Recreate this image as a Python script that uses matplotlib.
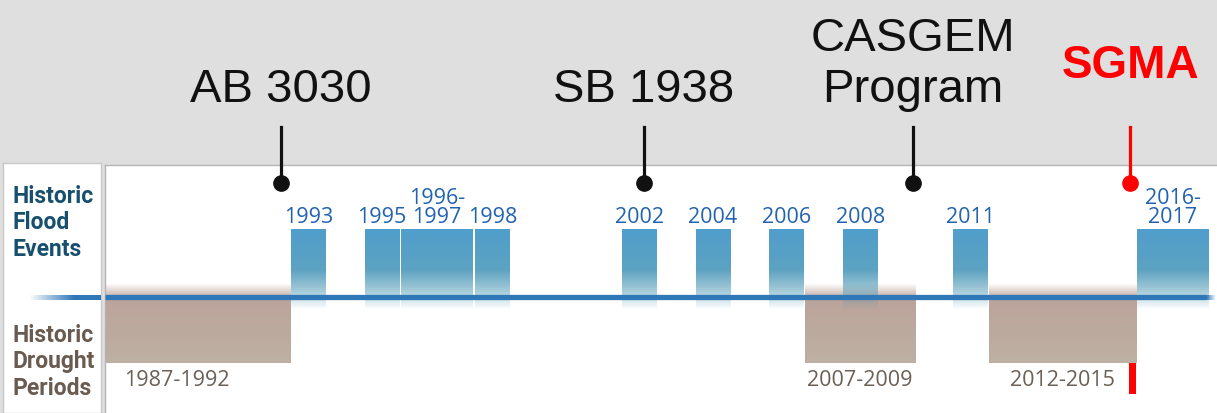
import matplotlib.pyplot as plt
import numpy as np
from matplotlib.colors import to_rgb

# figure size in pixels
W, H = 1217, 413

# Data
flood_start = [1993, 1995, 1996, 1998, 2002, 2004, 2006, 2008, 2011, 2016]
flood_end = [1994, 1996, 1998, 1999, 2003, 2005, 2007, 2009, 2012, 2018]
flood_labels = ['1993', '1995', '1996-\n1997', '1998', '2002', '2004',
                '2006', '2008', '2011', '2016-\n2017']

drought_start = [1987, 2007, 2012]
drought_end = [1993, 2010, 2016]
drought_labels = ['1987-1992', '2007-2009', '2012-2015']

law_names = ['AB 3030', 'SB 1938', 'CASGEM\nProgram', 'SGMA']
law_years = [1992.75, 2002.62, 2009.94, 2015.84]
law_colors = ['#111111', '#111111', '#111111', '#ff0000']
sgma_tick = [2015.8, 2016.0]

XMIN, XMAX = 1987.97, 2018.2

fig = plt.figure(figsize=(W / 100, H / 100), dpi=100, facecolor='#dfdfdf')

# Left label panel (pixel units, y measured from the top)
lab = fig.add_axes([3 / W, 0, 98 / W, 250 / H])
lab.set_xticks([])
lab.set_yticks([])
for s in lab.spines.values():
    s.set_color('#c8c8c8')
    s.set_linewidth(1)

# gradient line in label panel
grad = np.zeros((1, 200, 4))
grad[..., :3] = to_rgb('#2f78b8')
grad[0, :, 3] = np.clip(np.linspace(-0.25, 1.6, 200), 0, 1)
lab.imshow(grad, extent=(18, 101, 300, 295), aspect='auto', origin='upper', zorder=3)
lab.set_xlim(3, 101)
lab.set_ylim(413, 163)

lab.text(13, 256, 'Historic\nFlood\nEvents', ha='left', va='baseline',
         fontsize=16.5, fontweight='bold', family='Roboto', color='#17506f',
         linespacing=1.2)
lab.text(13, 395, 'Historic\nDrought\nPeriods', ha='left', va='baseline',
         fontsize=16.5, fontweight='bold', family='Roboto', color='#6a5b50',
         linespacing=1.2)

# Main timeline panel
ax = fig.add_axes([105 / W, 0, (W - 105) / W, 248 / H])
ax.set_xticks([])
ax.set_yticks([])
for name, s in ax.spines.items():
    s.set_color('#b4b4b4')
    s.set_linewidth(1)
    if name in ('bottom', 'right'):
        s.set_visible(False)


def block(x0, x1, ytop, ybot, ctop, cbot, alpha, z):
    n = len(alpha)
    img = np.zeros((n, 2, 4))
    t = np.linspace(0, 1, n)[:, None, None]
    img[..., :3] = (1 - t) * np.array(to_rgb(ctop)) + t * np.array(to_rgb(cbot))
    img[..., 3] = np.array(alpha)[:, None]
    ax.imshow(img, extent=(x0, x1, ybot, ytop), aspect='auto', origin='upper',
              interpolation='bilinear', zorder=z)


# drought periods
yy = np.linspace(283, 363, 80)
d_alpha = np.interp(yy, [283, 296, 300, 363], [0.0, 0.75, 0.92, 0.92])
for x0, x1, txt in zip(drought_start, drought_end, drought_labels):
    block(x0, x1, 283, 363, '#b5988f', '#b8a99b', d_alpha, 1)
    if x0 < XMIN:
        ax.text(x0 + 1.5, 386, txt, ha='left', va='baseline', fontsize=15.5,
                family='Open Sans', color='#6a6058')
    else:
        ax.text((x0 + x1) / 2, 386, txt, ha='center', va='baseline',
                fontsize=15.5, family='Open Sans', color='#6a6058')

# flood events
yy = np.linspace(229, 310, 81)
f_alpha = np.interp(yy, [229, 270, 294, 300, 310], [0.95, 0.9, 0.45, 0.25, 0.0])
for x0, x1, txt in zip(flood_start, flood_end, flood_labels):
    block(x0 + 0.03, x1 - 0.03, 229, 310, '#4698c9', '#4f99ae', f_alpha, 2)
    ax.text((x0 + x1) / 2, 223, txt, ha='center', va='baseline', fontsize=15.5,
            family='Open Sans', color='#2263b0', linespacing=0.9)

# blue time line with fading right end
ax.plot([XMIN, 2017.9], [297.5, 297.5], color='#2f78b8', lw=3.8,
        solid_capstyle='butt', zorder=3)
fade = np.zeros((1, 50, 4))
fade[..., :3] = to_rgb('#2f78b8')
fade[0, :, 3] = np.linspace(1, 0, 50)
ax.imshow(fade, extent=(2017.9, 2018.15, 300, 295), aspect='auto',
          origin='upper', zorder=3)

# legislation markers
for name, yr, c in zip(law_names, law_years, law_colors):
    ax.plot([yr, yr], [127, 183], color=c, lw=2.3, clip_on=False, zorder=5)
    ax.plot(yr, 183, 'o', ms=11, color=c, clip_on=False, zorder=5)
    if name == 'SGMA':
        ax.text(yr, 78, name, ha='center', va='baseline', fontsize=33,
                fontweight='bold', family='Liberation Sans', color=c)
    else:
        ax.text(yr, 102, name, ha='center', va='baseline', fontsize=34,
                family='Liberation Sans', color=c, linespacing=1.2)

ax.axvspan(sgma_tick[0], sgma_tick[1], ymin=(413 - 394) / 248,
           ymax=(413 - 363) / 248, color='#ff0000', lw=0, zorder=5)

ax.set_xlim(XMIN, XMAX)
ax.set_ylim(413, 165)

fig.savefig('out.png', dpi=100, facecolor=fig.get_facecolor())
